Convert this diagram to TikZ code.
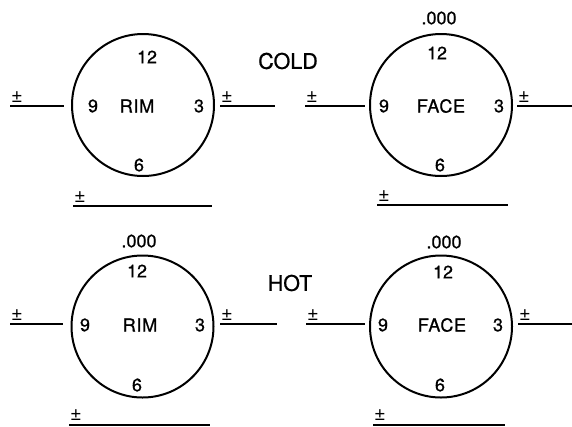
\documentclass[tikz,border=0pt]{standalone}
\usepackage{fontspec}
\setmainfont{TeX Gyre Heros}
\begin{document}
\begin{tikzpicture}[x=1pt,y=-1pt]
	\tikzstyle{dial}=[draw,circle,line width=2pt,minimum size=142pt,inner sep=0pt]
	\tikzstyle{num}=[inner sep=0pt,font=\fontsize{18}{20}\selectfont\addfontfeature{FakeBold=0.8}]
	\tikzstyle{word}=[inner sep=0pt,font=\fontsize{18}{20}\selectfont\addfontfeature{LetterSpace=4,FakeBold=0.8}]
	\tikzstyle{heading}=[inner sep=0pt,font=\fontsize{21.5}{24}\selectfont\addfontfeature{FakeBold=0.8}]
	\tikzstyle{blank}=[line width=2pt]
	\tikzstyle{pm}=[anchor=south west,inner sep=0pt,xshift=0pt,yshift=3pt,font=\fontsize{20}{22}\selectfont]
	
	\useasboundingbox (0,0) rectangle (572,426);
	
	% cold, rim
	\node[dial] (rimcold) at (143,105) {};
	\node[word] (rimcoldtxt) at (137,106) {RIM};
	\node[num] (rimcold12) at (147,57) {12};
	\node[num] (rimcold9) at (93,106) {9};
	\node[num] (rimcold3) at (199,106) {3};
	\node[num] (rimcold6) at (139,165) {6};
	\draw[blank] (10,106) -- (64,106) node[pos=0,pm] {±};
	\draw[blank] (220,106) -- (275,106) node[pos=0,pm] {±};
	\draw[blank] (73,206) -- (212,206) node[pos=0,pm] {±};
	
	\node[heading] (cold) at (288,61) {COLD};
	
	% cold, face
	\node[dial] (facecold) at (441,105) {};
	\node[word] (facecoldtxt) at (441,106) {FACE};
	\node[num] (facecoldzero) at (439,18) {.000};
	\node[num] (facecold12) at (437,53) {12};
	\node[num] (facecold9) at (384,106) {9};
	\node[num] (facecold3) at (499,106) {3};
	\node[num] (facecold6) at (440,165) {6};
	\draw[blank] (305,106) -- (365,106) node[pos=0,pm] {±};
	\draw[blank] (517,106) -- (572,106) node[pos=0,pm] {±};
	\draw[blank] (377,205) -- (508,205) node[pos=0,pm] {±};
	
	% hot, rim
	\node[dial] (rimhot) at (142.5,326.5) {};
	\node[word] (rimhottxt) at (140,325) {RIM};
	\node[num] (rimhotzero) at (139,241) {.000};
	\node[num] (rimhot12) at (137,271) {12};
	\node[num] (rimhot9) at (85,325) {9};
	\node[num] (rimhot3) at (200,325) {3};
	\node[num] (rimhot6) at (137,385) {6};
	\draw[blank] (10,324) -- (63,324) node[pos=0,pm] {±};
	\draw[blank] (220,324) -- (277,324) node[pos=0,pm] {±};
	\draw[blank] (69,424.5) -- (210,424.5) node[pos=0,pm] {±};
	
	\node[heading] (hot) at (290,283) {HOT};
	
	% hot, face
	\node[dial] (facehot) at (441,326.5) {};
	\node[word] (facehottxt) at (442,325) {FACE};
	\node[num] (facehotzero) at (444,242) {.000};
	\node[num] (facehot12) at (443,272) {12};
	\node[num] (facehot9) at (383,325) {9};
	\node[num] (facehot3) at (498,325) {3};
	\node[num] (facehot6) at (440,385) {6};
	\draw[blank] (306,324) -- (365,324) node[pos=0,pm] {±};
	\draw[blank] (518,324) -- (572,324) node[pos=0,pm] {±};
	\draw[blank] (373,424.5) -- (505,424.5) node[pos=0,pm] {±};
	
\end{tikzpicture}
\end{document}
